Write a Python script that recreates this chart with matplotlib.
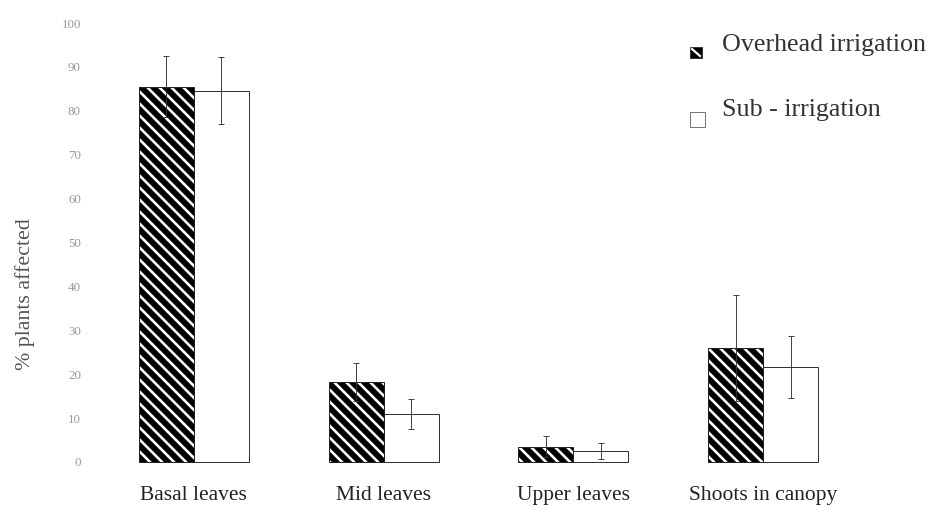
import matplotlib
matplotlib.use("Agg")
import matplotlib.pyplot as plt
from matplotlib.patches import Rectangle
from matplotlib.lines import Line2D
import numpy as np

categories = ["Basal leaves", "Mid leaves", "Upper leaves", "Shoots in canopy"]
overhead = [85.5, 18.2, 3.5, 25.9]
overhead_err = [7.0, 4.4, 2.4, 12.1]
sub = [84.6, 10.9, 2.5, 21.6]
sub_err = [7.7, 3.4, 1.8, 7.1]
yticks = [0, 10, 20, 30, 40, 50, 60, 70, 80, 90, 100]
series_names = ["Overhead irrigation", "Sub - irrigation"]

plt.rcParams["font.family"] = ["Liberation Serif", "DejaVu Serif"]
plt.rcParams["hatch.linewidth"] = 2.6

W, H, DPI = 929, 507, 72
fig = plt.figure(figsize=(W / DPI, H / DPI), dpi=DPI)
fig.patch.set_facecolor("white")

ax = fig.add_axes([130 / W, 45 / H, 720 / W, 439 / H])
ax.set_xlim(-0.337, 3.458)
ax.set_ylim(0, 100)

x = np.arange(len(categories))
w = 0.29

# hatched overhead bars: white stripes on black, then a thin outline
ax.bar(x - w / 2, overhead, w, facecolor="black", edgecolor="white",
       hatch="\\\\", linewidth=0, zorder=2)
ax.bar(x - w / 2, overhead, w, facecolor="none", edgecolor="#222222",
       linewidth=1.0, zorder=3, clip_on=False)
# plain sub-irrigation bars
ax.bar(x + w / 2, sub, w, facecolor="white", edgecolor="#333333",
       linewidth=1.0, zorder=2, clip_on=False)

ax.errorbar(x - w / 2, overhead, yerr=overhead_err, fmt="none",
            ecolor="#333333", elinewidth=0.9, capsize=3, capthick=0.9, zorder=4)
ax.errorbar(x + w / 2, sub, yerr=sub_err, fmt="none",
            ecolor="#333333", elinewidth=0.9, capsize=3, capthick=0.9, zorder=4)

for s in ax.spines.values():
    s.set_visible(False)

ax.set_xticks(x)
ax.set_xticklabels(categories, fontsize=21.5, color="#222222")
ax.tick_params(axis="x", length=0, pad=24)
ax.set_yticks(yticks)
ax.set_yticklabels([str(v) for v in yticks], fontsize=13, color="#999999")
ax.tick_params(axis="y", length=0, pad=49)

fig.text(25 / W, 1 - 294 / H, "% plants affected", rotation=90,
         ha="center", va="center", fontsize=22, color="#555555")

# legend keys
fig.add_artist(Rectangle((690 / W, 1 - 58 / H), 12 / W, 11 / H,
                         transform=fig.transFigure, facecolor="black",
                         edgecolor="#222222", linewidth=0.8))
fig.add_artist(Line2D([692 / W, 700 / W], [1 - 49 / H, 1 - 56 / H],
                      transform=fig.transFigure, color="white", linewidth=2.2))
fig.add_artist(Rectangle((690 / W, 1 - 127 / H), 15 / W, 15 / H,
                         transform=fig.transFigure, facecolor="white",
                         edgecolor="#777777", linewidth=1.0))
fig.text(722 / W, 1 - 45 / H, series_names[0], ha="left", va="center",
         fontsize=26, color="#333333")
fig.text(722 / W, 1 - 110 / H, series_names[1], ha="left", va="center",
         fontsize=26, color="#333333")

fig.savefig("out.png", dpi=DPI, facecolor="white")
